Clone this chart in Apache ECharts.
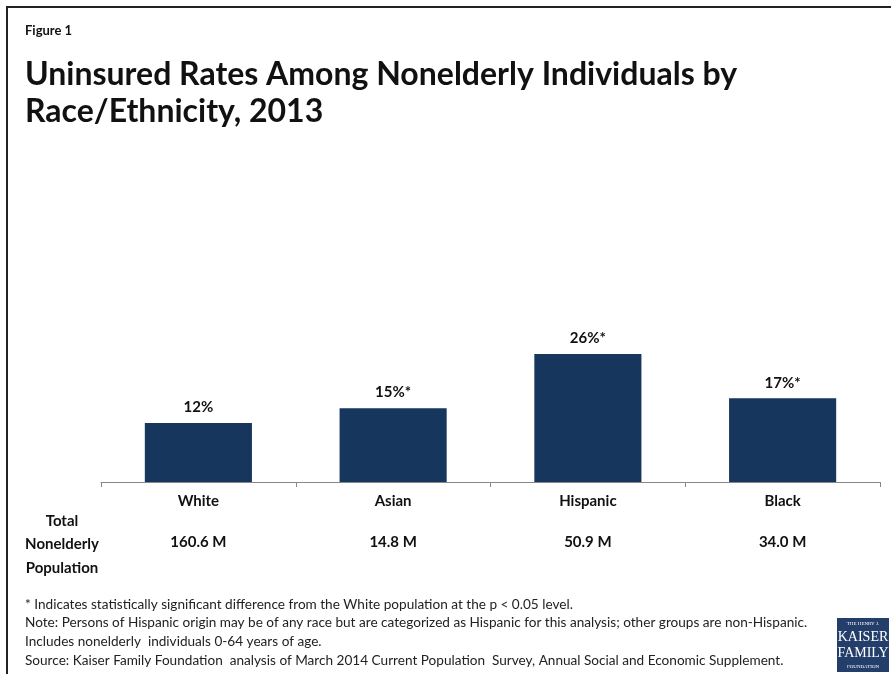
<!DOCTYPE html>
<html><head><meta charset="utf-8">
<script src="https://cdn.jsdelivr.net/npm/echarts@6/dist/echarts.min.js"></script>
<style>html,body{margin:0;padding:0;background:#fff}#c{width:891px;height:674px}</style>
</head><body><div id="c"></div>
<script>
const categories = ['White', 'Asian', 'Hispanic', 'Black'];
const uninsuredRates = [12, 15, 26, 17];
const significant = [false, true, true, true];
const populations = ['160.6 M', '14.8 M', '50.9 M', '34.0 M'];

const FONT = 'Lato';
const chart = echarts.init(document.getElementById('c'), null, {renderer: 'canvas'});
chart.setOption({
  backgroundColor: '#fff',
  animation: false,
  grid: {left: 101, right: 11, top: 285, bottom: 192, containLabel: false},
  xAxis: [{
    type: 'category', data: categories, position: 'bottom',
    axisLine: {lineStyle: {color: '#888', width: 1}},
    axisTick: {show: true, length: 5, lineStyle: {color: '#888'}},
    axisLabel: {color: '#111', fontFamily: FONT, fontWeight: 'bold', fontSize: 15, margin: 12}
  }, {
    type: 'category', data: populations, position: 'bottom', offset: 41,
    axisLine: {show: false}, axisTick: {show: false},
    axisLabel: {color: '#111', fontFamily: FONT, fontWeight: 'bold', fontSize: 15, margin: 12}
  }],
  yAxis: {type: 'value', min: 0, max: 40, show: false, splitLine: {show: false}},
  series: [{
    type: 'bar', xAxisIndex: 0,
    data: uninsuredRates, barWidth: '55%',
    itemStyle: {color: '#17365d'},
    label: {show: true, position: 'top', distance: 8, color: '#111', fontFamily: FONT, fontWeight: 'bold', fontSize: 15,
      formatter: p => p.value + '%' + (significant[p.dataIndex] ? '*' : '')}
  }],
  graphic: [
    {type: 'rect', shape: {x: 7, y: 7, width: 900, height: 700}, style: {fill: 'none', stroke: '#222', lineWidth: 2}, silent: true},
    {type: 'text', left: 25, top: 24, style: {text: 'Figure 1', font: 'bold 13px ' + FONT, fill: '#111'}},
    {type: 'text', left: 25, top: 56, style: {text: 'Uninsured Rates Among Nonelderly Individuals by\nRace/Ethnicity, 2013', font: 'bold 32px ' + FONT, fill: '#111', lineHeight: 37}},
    {type: 'text', x: 62, y: 509, style: {text: 'Total\nNonelderly\nPopulation', font: 'bold 15px ' + FONT, fill: '#111', lineHeight: 23.5, align: 'center'}},
    {type: 'text', left: 25, top: 595, style: {text: '* Indicates statistically significant difference from the White population at the p < 0.05 level.\nNote: Persons of Hispanic origin may be of any race but are categorized as Hispanic for this analysis; other groups are non-Hispanic.\nIncludes nonelderly  individuals 0-64 years of age.\nSource: Kaiser Family Foundation  analysis of March 2014 Current Population  Survey, Annual Social and Economic Supplement.', font: '13.6px ' + FONT, fill: '#222', lineHeight: 18.7}},
    {type: 'rect', shape: {x: 837, y: 618, width: 52, height: 54}, style: {fill: '#243e6b'}},
    {type: 'text', x: 863, y: 624, style: {text: 'THE HENRY J.', font: '5px "Liberation Serif"', fill: '#fff', align: 'center', verticalAlign: 'middle'}},
    {type: 'text', x: 863, y: 637, style: {text: 'KAISER', font: '14px "Liberation Serif"', fill: '#fff', align: 'center', verticalAlign: 'middle'}},
    {type: 'text', x: 863, y: 653, style: {text: 'FAMILY', font: '14px "Liberation Serif"', fill: '#fff', align: 'center', verticalAlign: 'middle'}},
    {type: 'text', x: 863, y: 667, style: {text: 'FOUNDATION', font: '5px "Liberation Serif"', fill: '#fff', align: 'center', verticalAlign: 'middle'}}
  ]
});
</script></body></html>
